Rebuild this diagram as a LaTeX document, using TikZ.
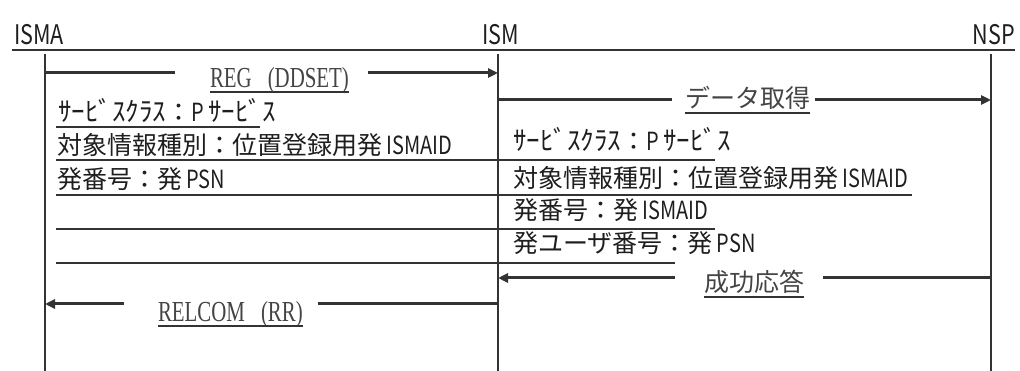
\documentclass[tikz,border=0pt]{standalone}
\usepackage{fontspec}
\usetikzlibrary{arrows.meta,calc}
\newfontfamily\jpfont{Noto Sans CJK JP}
\newfontfamily\jpnarrow{Noto Sans CJK JP}[FakeStretch=0.8]
\newfontfamily\serfont{Liberation Serif}[FakeStretch=0.72]
\definecolor{ink}{HTML}{333333}
\definecolor{txt}{HTML}{1E1E1E}
\definecolor{lbl}{HTML}{444444}
\newcommand\latn[1]{{\jpnarrow #1}}
\newcommand\hwk[1]{{\fontsize{27}{27}\selectfont #1}}
\begin{document}
\begin{tikzpicture}[x=1pt,y=-1pt,
  every node/.style={inner sep=0pt,outer sep=0pt,anchor=base west,text=txt},
  head/.style={font=\jpnarrow\fontsize{27}{27}\selectfont},
  rowtext/.style={font=\jpfont\fontsize{25}{25}\selectfont},
  msglabel/.style={font=\serfont\fontsize{29}{29}\selectfont,text=lbl},
  jlabel/.style={font=\jpfont\fontsize{25}{25}\selectfont,text=lbl},
  life/.style={draw=ink,line width=1.2pt},
  rule/.style={draw=ink,line width=2pt},
  msg/.style={draw=ink,line width=3pt},
  msgtip/.style={msg,-{Triangle[length=10pt,width=9pt]}},
  uline/.style={draw=ink,line width=1.8pt}]
\useasboundingbox (0,0) rectangle (1020,371);

% header
\coordinate (topL) at (12,50);
\coordinate (topR) at (1015,50);
\draw[rule] (topL) -- (topR);
\node[head] (hA) at (14,45) {ISMA};
\node[head] (hI) at (482,45) {ISM};
\node[head,anchor=base east] (hN) at (1015,45) {NSP};

% lifelines
\coordinate (A0) at (45,54);  \coordinate (A1) at (45,371);
\coordinate (I0) at (498,54); \coordinate (I1) at (498,371);
\coordinate (N0) at (991,54); \coordinate (N1) at (991,371);
\draw[life] (A0) -- (A1);
\draw[life] (I0) -- (I1);
\draw[life] (N0) -- (N1);

% REG (DDSET)
\coordinate (regS) at (45,73);
\coordinate (regE) at (498,73);
\node[msglabel] (reg) at (210,88) {REG\hspace{16pt}(DDSET)};
\coordinate (rega) at (175,73);
\coordinate (regb) at (368,73);
\draw[msg] (regS) -- (rega);
\draw[msgtip] (regb) -- (regE);
\draw[uline] ($(reg.base west)+(0,4)$) -- ($(reg.base east)+(0,4)$);

% データ取得
\coordinate (datS) at (498,100);
\coordinate (datE) at (991,100);
\node[jlabel] (dat) at (685,108) {データ取得};
\coordinate (data) at (672,100);
\coordinate (datb) at (815,100);
\draw[msg] (datS) -- (data);
\draw[msgtip] (datb) -- (datE);
\draw[uline] ($(dat.base west)+(0,5)$) -- ($(dat.base east)+(0,5)$);

% 成功応答
\coordinate (okS) at (991,278);
\coordinate (okE) at (498,278);
\node[jlabel] (ok) at (704,292) {成功応答};
\coordinate (oka) at (823,278);
\coordinate (okb) at (675,278);
\draw[msg] (okS) -- (oka);
\draw[msgtip] (okb) -- (okE);
\draw[uline] ($(ok.base west)+(0,5)$) -- ($(ok.base east)+(0,5)$);

% RELCOM (RR)
\coordinate (relS) at (498,304);
\coordinate (relE) at (45,304);
\node[msglabel] (rel) at (158,322) {RELCOM\hspace{16pt}(RR)};
\coordinate (rela) at (318,304);
\coordinate (relb) at (124,304);
\draw[msg] (relS) -- (rela);
\draw[msgtip] (relb) -- (relE);
\draw[uline] ($(rel.base west)+(0,4)$) -- ($(rel.base east)+(0,4)$);

% left parameter rows
\node[rowtext] (l1) at (58,122) {\hwk{ｻｰﾋﾞｽｸﾗｽ}：\latn{P }\hwk{ｻｰﾋﾞｽ}};
\node[rowtext] (l2) at (57,155) {対象情報種別：位置登録用発\latn{ ISMAID}};
\node[rowtext] (l3) at (57,189) {発番号：発\latn{ PSN}};

% right parameter rows
\node[rowtext] (r1) at (513,151) {\hwk{ｻｰﾋﾞｽｸﾗｽ}：\latn{P }\hwk{ｻｰﾋﾞｽ}};
\node[rowtext] (r2) at (513,188) {対象情報種別：位置登録用発\latn{ ISMAID}};
\node[rowtext] (r3) at (513,220) {発番号：発\latn{ ISMAID}};
\node[rowtext] (r4) at (513,253) {発ユーザ番号：発\latn{ PSN}};

% row rules
\coordinate (u0a) at (56,127);  \coordinate (u0b) at (260,127);
\coordinate (u1a) at (56,160);  \coordinate (u1b) at (715,160);
\coordinate (u2a) at (56,195);  \coordinate (u2b) at (912,195);
\coordinate (u3a) at (56,229);  \coordinate (u3b) at (715,229);
\coordinate (u4a) at (56,263);  \coordinate (u4b) at (675,263);
\draw[uline] (u0a) -- (u0b);
\draw[uline] (u1a) -- (u1b);
\draw[uline] (u2a) -- (u2b);
\draw[uline] (u3a) -- (u3b);
\draw[uline] (u4a) -- (u4b);
\end{tikzpicture}
\end{document}
